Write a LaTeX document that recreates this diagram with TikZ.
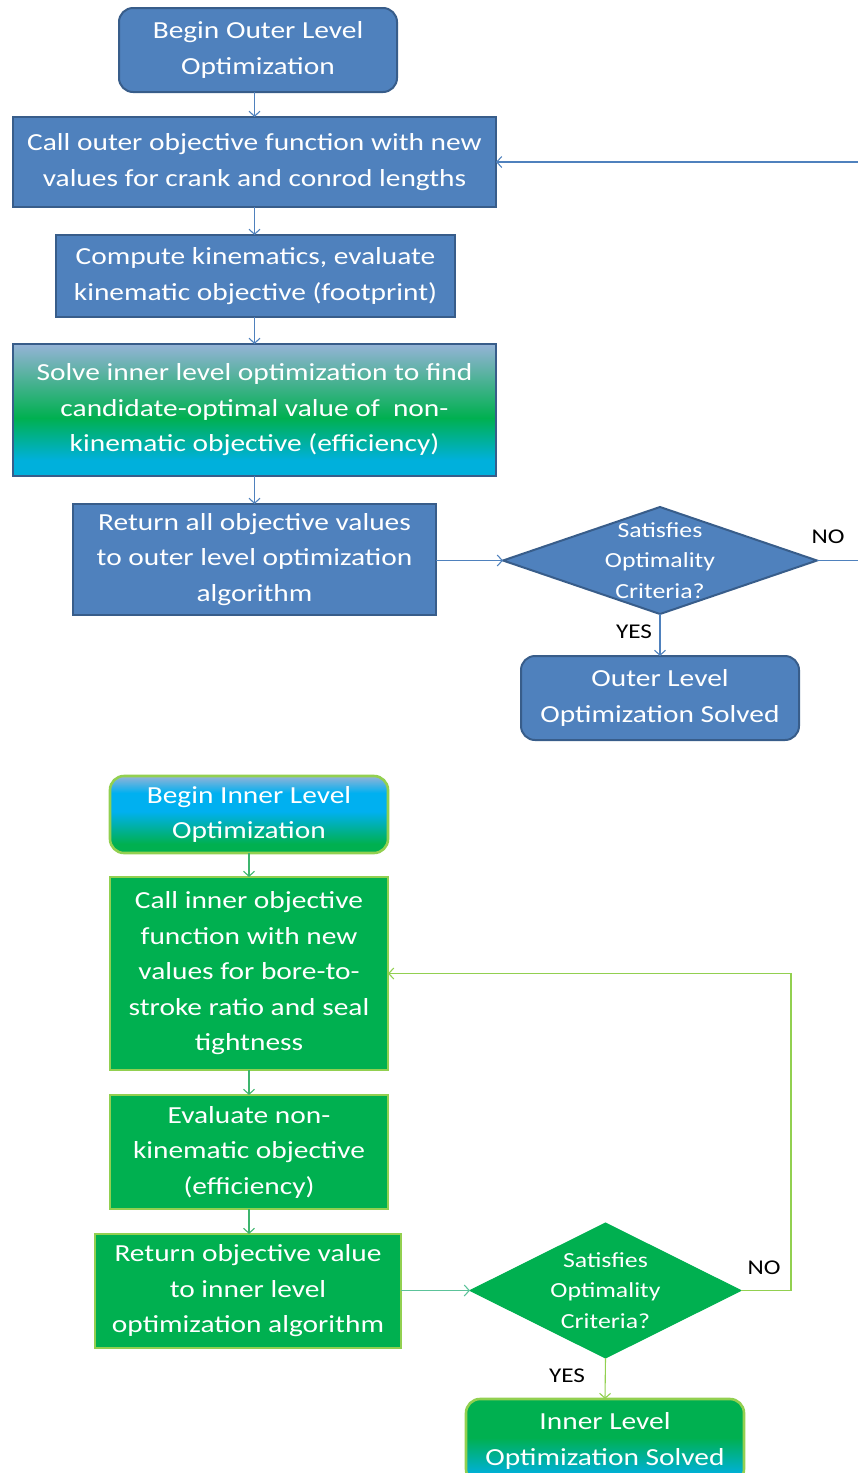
\documentclass[tikz,border=0pt]{standalone}
\usepackage{fontspec}
\setmainfont{Carlito}[FakeStretch=1.2]
\usetikzlibrary{shapes.geometric,arrows.meta}

\definecolor{outerfill}{HTML}{4F81BD}
\definecolor{outerline}{HTML}{385D8A}
\definecolor{okgreen}{HTML}{00B050}
\definecolor{limeline}{HTML}{92D050}
\definecolor{skyblue}{HTML}{00B0F0}
\definecolor{paleblue}{HTML}{95B3D7}
\definecolor{cyanbot}{HTML}{00B0DC}
\definecolor{greenarrow}{HTML}{3DB56E}
\definecolor{tealarrow}{HTML}{5CC39A}

% shadings: the part between 25bp and 75bp covers the node
\pgfdeclareverticalshading{solvefill}{100bp}{color(0bp)=(cyanbot); color(31bp)=(cyanbot); color(47bp)=(okgreen); color(75bp)=(paleblue); color(100bp)=(paleblue)}
\pgfdeclareverticalshading{innerstart}{100bp}{color(0bp)=(okgreen); color(31bp)=(okgreen); color(52bp)=(skyblue); color(64bp)=(skyblue); color(75bp)=(paleblue); color(100bp)=(paleblue)}
\pgfdeclareverticalshading{innerend}{100bp}{color(0bp)=(cyanbot); color(30bp)=(cyanbot); color(52bp)=(okgreen); color(100bp)=(okgreen)}

\begin{document}
\begin{tikzpicture}[x=1pt,y=-1pt,
  every node/.style={inner sep=0pt, outer sep=0pt},
  boxtext/.style={font=\fontsize{24.5}{35.5}\selectfont, text=white, align=center},
  obox/.style 2 args={boxtext, draw=outerline, line width=2pt, fill=outerfill,
    minimum width=#1, minimum height=#2},
  gbox/.style 2 args={boxtext, draw=limeline, line width=2.6pt, fill=okgreen,
    minimum width=#1, minimum height=#2},
  term/.style={rounded corners=14pt},
  dtext/.style={font=\fontsize{21.5}{30.5}\selectfont, text=white, align=center},
  lbl/.style={font=\fontsize{21}{26}\selectfont, text=black},
  tip/.style={-{Straight Barb[length=5pt,width=11pt]}},
  oarrow/.style={tip, draw=outerfill, line width=1.1pt},
  garrow/.style={tip, draw=greenarrow, line width=1.1pt},
]
\useasboundingbox (0,0) rectangle (858,1473);
\clip (0,0) rectangle (858,1473);

% ---------------- outer level ----------------
\node[obox={278}{84}, term] (b1) at (258,50) {Begin Outer Level\\Optimization};
\node[obox={483}{90}] (b2) at (254.5,162) {Call outer objective function with new\\values for crank and conrod lengths};
\node[obox={399}{82}] (b3) at (255.5,276) {Compute kinematics, evaluate\\kinematic objective (footprint)};
\node[boxtext, draw=outerline, line width=2pt, shade, shading=solvefill,
      minimum width=483, minimum height=132] (b4) at (254.5,410)
      {Solve inner level optimization to find\\candidate-optimal value of \ non-\\kinematic objective (efficiency)};
\node[obox={363}{111}] (b5) at (254.5,559.5) {Return all objective values\\to outer level optimization\\algorithm};
\node[diamond, draw=outerline, line width=2pt, fill=outerfill,
      minimum width=314, minimum height=107,
      label={[dtext]center:Satisfies\\Optimality\\Criteria?}] (d1) at (660,560.5) {};
\node[obox={278}{84}, term] (s1) at (660,698) {Outer Level\\Optimization Solved};

\coordinate (oexit) at (858,560.5);
\coordinate (oback) at (858,162);

\draw[oarrow] (b2.north |- b1.south) -- (b2.north);
\draw[oarrow] (b2.south) -- (b3.north -| b2.south);
\draw[oarrow] (b3.south -| b4.north) -- (b4.north);
\draw[oarrow] (b4.south) -- (b5.north);
\draw[oarrow] (b5.east |- d1.west) -- (d1.west);
\draw[oarrow] (d1.south) -- (s1.north);
\draw[draw=outerfill, line width=1.1pt] (d1.east) -- (oexit);
\draw[oarrow] (oback) -- (b2.east);

\node[lbl] (ono) at (828,537) {NO};
\node[lbl] (oyes) at (634,632) {YES};

% ---------------- inner level ----------------
\node[boxtext, draw=limeline, line width=2.6pt, term, shade, shading=innerstart,
      minimum width=278, minimum height=77] (b8) at (249,814.5) {Begin Inner Level\\Optimization};
\node[gbox={278}{193}] (b9) at (249,973.5) {Call inner objective\\function with new\\values for bore-to-\\stroke ratio and seal\\tightness};
\node[gbox={278}{114}] (b10) at (249,1152) {Evaluate non-\\kinematic objective\\(efficiency)};
\node[gbox={306}{114}] (b11) at (248,1291) {Return objective value\\to inner level\\optimization algorithm};
\node[diamond, draw=okgreen, line width=1pt, fill=okgreen,
      minimum width=271, minimum height=135,
      label={[dtext]center:Satisfies\\Optimality\\Criteria?}] (d2) at (605.5,1290.5) {};
\node[boxtext, draw=limeline, line width=2.6pt, term, shade, shading=innerend,
      minimum width=278, minimum height=84] (s2) at (605,1441) {Inner Level\\Optimization Solved};

\coordinate (iloop) at (791,0);

\draw[garrow] (b8.south) -- (b9.north);
\draw[garrow] (b9.south) -- (b10.north);
\draw[garrow] (b10.south) -- (b11.north -| b10.south);
\draw[tip, draw=tealarrow, line width=1.1pt] (b11.east |- d2.west) -- (d2.west);
\draw[tip, draw=limeline, line width=1.1pt] (d2.south) -- (s2.north);
\draw[tip, draw=limeline, line width=1.1pt] (d2.east) -- (d2.east -| iloop) |- (b9.east);

\node[lbl] (ino) at (764,1268) {NO};
\node[lbl] (iyes) at (567,1376) {YES};
\end{tikzpicture}
\end{document}
